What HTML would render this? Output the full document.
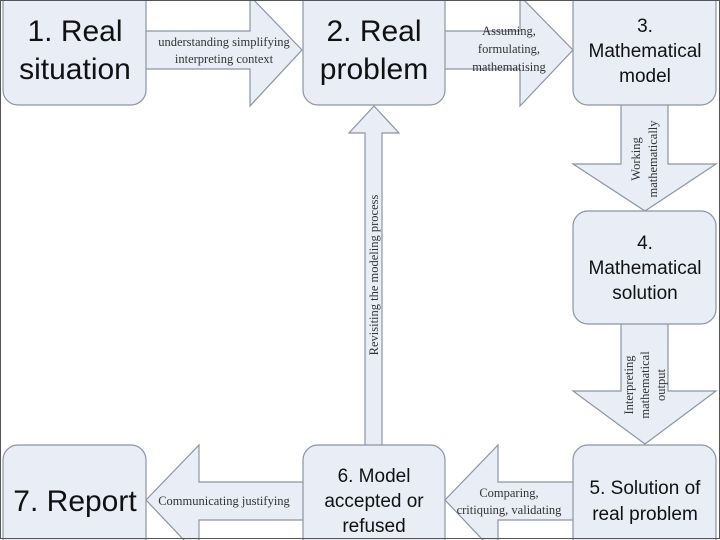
<!DOCTYPE html>
<html><head><meta charset="utf-8"><style>
html,body{margin:0;padding:0;background:#fff}
#c{position:relative;width:720px;height:540px;overflow:hidden;background:#fff}
.s{font-family:"Liberation Serif",serif;fill:#333}
.a{font-family:"Liberation Sans",sans-serif;fill:#111;text-anchor:middle}
</style></head><body><div id="c">
<svg width="720" height="540" viewBox="0 0 720 540" xmlns="http://www.w3.org/2000/svg">
<g fill="#e8edf6" stroke="#8c95a3" stroke-width="1.2">
<!-- arrow 1 right -->
<polygon points="140,31 250,31 250,-4 302,50 250,106 250,69 140,69"/>
<!-- arrow 2 right -->
<polygon points="440,31 520,31 520,-4 573,50 520,106 520,69 440,69"/>
<!-- arrow 3 down -->
<polygon points="621,100 668,100 668,164 716,164 645,211 573,164 621,164"/>
<!-- arrow 4 down -->
<polygon points="621,320 668,320 668,391 716,391 645,444 573,391 621,391"/>
<!-- arrow 5 left -->
<polygon points="580,482 498,482 498,445 445,500 498,556 498,520 580,520"/>
<!-- arrow 6 left -->
<polygon points="310,482 199,482 199,445 146,500 199,556 199,520 310,520"/>
<!-- arrow up -->
<polygon points="365,450 365,133 349,133 374,106 399,133 382,133 382,450"/>
<!-- boxes -->
<rect x="3" y="-15" width="143" height="120" rx="15"/>
<rect x="303" y="-15" width="142" height="120" rx="15"/>
<rect x="573" y="-15" width="143" height="120" rx="15"/>
<rect x="573" y="211" width="143" height="113" rx="15"/>
<rect x="573" y="445" width="143" height="110" rx="15"/>
<rect x="303" y="445" width="142" height="110" rx="15"/>
<rect x="3" y="445" width="143" height="110" rx="15"/>
</g>
<rect x="0.5" y="0.5" width="719" height="538" fill="none" stroke="#555" stroke-width="1"/>
<g class="a" font-size="30">
<text x="75" y="41">1. Real</text><text x="75" y="79">situation</text>
<text x="374" y="41">2. Real</text><text x="374" y="79">problem</text>
<text x="75" y="511">7. Report</text>
</g>
<g class="a" font-size="19">
<text x="645" y="32">3.</text><text x="645" y="57">Mathematical</text><text x="645" y="82">model</text>
<text x="645" y="249">4.</text><text x="645" y="274">Mathematical</text><text x="645" y="299">solution</text>
<text x="645" y="494">5. Solution of</text><text x="645" y="520">real problem</text>
<text x="374" y="482">6. Model</text><text x="374" y="507">accepted or</text><text x="374" y="532">refused</text>
</g>
<g class="s" font-size="12.5" text-anchor="middle">
<text x="224" y="46">understanding simplifying</text><text x="224" y="63">interpreting context</text>
<text x="509" y="35">Assuming,</text><text x="509" y="53">formulating,</text><text x="509" y="71">mathematising</text>
<text x="509" y="497">Comparing,</text><text x="509" y="514">critiquing, validating</text>
<text x="224" y="505">Communicating justifying</text>
<text transform="translate(378,275) rotate(-90)">Revisiting the modeling process</text>
<text transform="translate(640,159) rotate(-90)">Working</text>
<text transform="translate(657,159) rotate(-90)">mathematically</text>
<text transform="translate(633,385) rotate(-90)">Interpreting</text>
<text transform="translate(649,385) rotate(-90)">mathematical</text>
<text transform="translate(665,385) rotate(-90)">output</text>
</g>
</svg>
</div></body></html>
